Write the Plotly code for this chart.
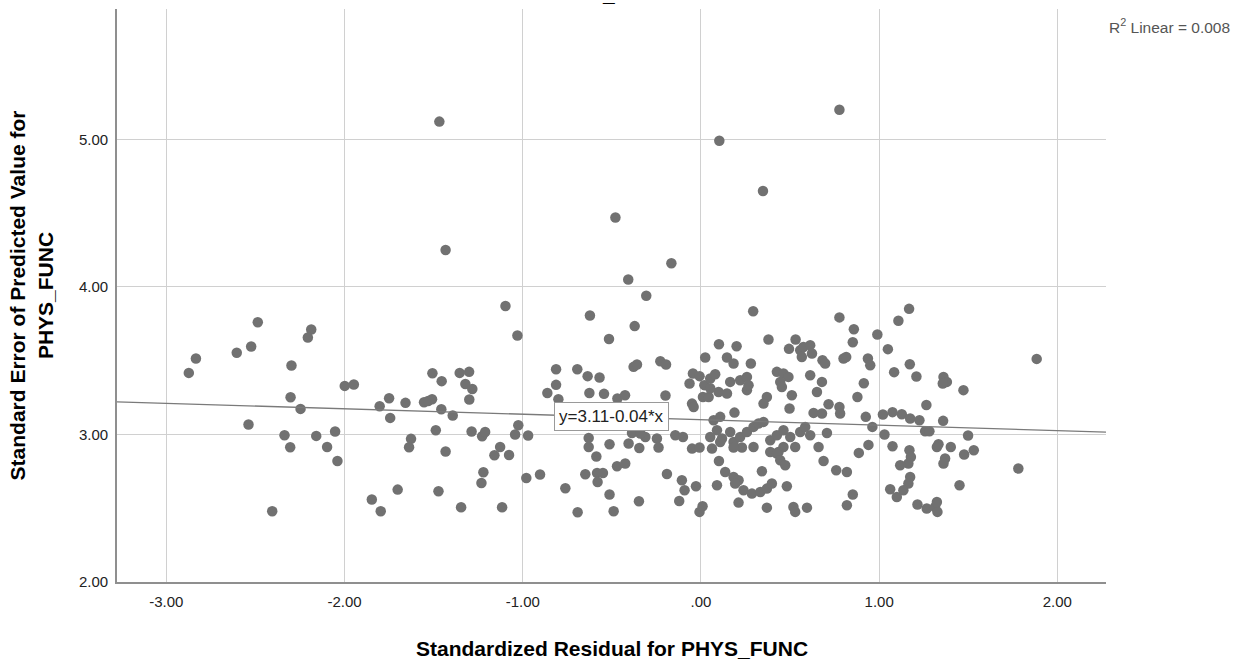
import plotly.graph_objects as go

# Standardized residual (x) and standard error of predicted value (y)
RESID = [
    -1.468, 0.103, 0.777, 0.348, -0.480, -1.433, -0.408, -0.166, -0.307, -1.097, -1.030,
    -2.487, -2.834, -2.874, -2.605, -2.524, -2.187, -2.206, -2.298, -2.303, -2.247,
    -2.539, -2.406, -2.337, -2.305, -2.159, -2.098, -2.053, -2.040, -1.999, -1.948,
    -1.803, -1.750, -1.744, -1.658, -1.847, -1.797, -1.702, -1.627, -1.638, -1.554,
    -1.531, -1.509, -1.507, -1.455, -1.457, -1.393, -1.488, -1.433, -1.473, -1.346,
    -1.354, -1.301, -1.322, -1.283, -1.300, -1.287, -1.228, -1.211, -1.221, -1.232,
    -1.116, -1.159, -1.127, -1.077, -1.043, -1.025,
    -0.623, -0.372, -0.516, 0.293, 0.777, -0.813, -0.694, -0.636, -0.569, -0.813,
    -0.862, -0.800, -0.626, -0.544, -0.378, -0.359, -0.228, -0.196, -0.469, -0.426, -0.199,
    -0.970, -0.980, -0.903, -0.761, -0.692, -0.630, -0.630, -0.587, -0.513, -0.406,
    -0.346, -0.387, -0.312, -0.247, -0.238, -0.340, -0.649, -0.583, -0.550, -0.580,
    -0.471, -0.425, -0.513, -0.490, -0.348, -0.191, -0.107, -0.092, -0.122, -0.028,
    -0.008, 0.009, -0.144, -0.101, -0.050, -0.008,
    -0.064, -0.045, -0.050, -0.041, -0.008, 0.019, 0.052, 0.080, 0.011, 0.043,
    0.024, 0.101, 0.146, 0.183, 0.200, 0.280, 0.099, 0.146, 0.164, 0.220,
    0.258, 0.258, 0.267, 0.188, 0.379, 0.494, 0.531, 0.557, 0.575, 0.613,
    0.566, 0.623, 0.682, 0.800, 0.426, 0.463, 0.491, 0.510, 0.445, 0.454,
    0.370, 0.351, 0.613, 0.679, 0.651, 0.632, 0.679, 0.716, 0.777, 0.497, 0.052,
    0.071, 0.108, 0.090, 0.052, 0.118, 0.164, 0.183, 0.220, 0.258, 0.295,
    0.323, 0.351, 0.389, 0.426, 0.463, 0.501, 0.557, 0.585, 0.613, 0.660,
    0.707, 0.463, 0.529, 0.389, 0.435, 0.295, 0.230, 0.183, 0.062, 0.108,
    0.101, 0.136, 0.183, 0.211, 0.090, 0.342, 0.426, 0.445, 0.473, 0.239,
    0.286, 0.333, 0.370, 0.398, 0.192, 0.211, 0.370, 0.482, 0.519, 0.529,
    0.595, 0.688, 0.759, 0.819, 0.819, 0.781,
    1.168, 1.108, 0.858, 0.852, 0.990, 1.049, 0.697, 0.815, 0.937, 0.950,
    1.172, 1.084, 1.209, 1.361, 1.380, 1.357, 1.473, 1.884, 0.914, 0.878,
    0.925, 1.021, 1.075, 1.127, 1.174, 1.226, 1.265, 1.359, 0.962, 1.030,
    1.258, 1.282, 1.499, 0.940, 0.886, 1.075, 1.170, 1.178, 1.164, 1.118,
    1.333, 1.324, 1.402, 1.531, 1.477, 1.370, 1.361, 1.174, 1.164, 1.136,
    1.099, 1.062, 0.852, 1.451, 1.781, 1.215, 1.267, 1.314, 1.327, 1.324,
]
SE_PRED = [
    5.12, 4.99, 5.20, 4.65, 4.47, 4.25, 4.05, 4.16, 3.94, 3.87, 3.67,
    3.760, 3.515, 3.417, 3.553, 3.596, 3.711, 3.657, 3.467, 3.252, 3.173,
    3.067, 2.479, 2.995, 2.913, 2.990, 2.915, 3.020, 2.820, 3.329, 3.338,
    3.191, 3.245, 3.112, 3.214, 2.559, 2.479, 2.626, 2.970, 2.913, 3.218,
    3.227, 3.239, 3.415, 3.361, 3.171, 3.128, 3.028, 2.884, 2.615, 2.506,
    3.417, 3.424, 3.342, 3.308, 3.237, 3.020, 2.988, 3.017, 2.744, 2.671,
    2.506, 2.859, 2.915, 2.861, 2.999, 3.062,
    3.806, 3.734, 3.647, 3.835, 3.793, 3.442, 3.442, 3.395, 3.386, 3.336,
    3.281, 3.239, 3.281, 3.275, 3.458, 3.474, 3.496, 3.474, 3.243, 3.266, 3.264,
    2.993, 2.705, 2.728, 2.635, 2.473, 2.976, 2.915, 2.850, 2.934, 2.938,
    2.908, 3.010, 2.983, 2.972, 2.911, 3.006, 2.730, 2.739, 2.739, 2.678,
    2.784, 2.803, 2.593, 2.479, 2.547, 2.732, 2.689, 2.622, 2.549, 2.649,
    2.475, 2.513, 2.995, 2.983, 2.904, 2.911,
    3.345, 3.413, 3.209, 3.186, 3.395, 3.334, 3.379, 3.408, 3.254, 3.254,
    3.521, 3.611, 3.521, 3.481, 3.598, 3.481, 3.288, 3.277, 3.356, 3.367,
    3.390, 3.300, 3.334, 3.148, 3.643, 3.580, 3.643, 3.571, 3.593, 3.605,
    3.525, 3.548, 3.503, 3.515, 3.424, 3.413, 3.390, 3.266, 3.356, 3.322,
    3.254, 3.209, 3.401, 3.356, 3.288, 3.146, 3.142, 3.205, 3.186, 3.176, 3.313,
    3.096, 3.119, 3.028, 2.983, 2.972, 3.017, 2.949, 2.983, 3.017, 3.051,
    3.074, 3.085, 2.961, 2.995, 3.028, 2.983, 3.017, 3.051, 2.995, 2.915,
    3.010, 2.915, 2.915, 2.881, 2.881, 2.915, 2.911, 2.911, 2.904, 2.949,
    2.820, 2.746, 2.712, 2.689, 2.656, 2.751, 2.870, 2.825, 2.791, 2.622,
    2.599, 2.610, 2.633, 2.667, 2.667, 2.538, 2.504, 2.649, 2.508, 2.475,
    2.504, 2.820, 2.757, 2.746, 2.520, 3.142,
    3.851, 3.770, 3.713, 3.625, 3.677, 3.578, 3.481, 3.525, 3.515, 3.469,
    3.476, 3.422, 3.393, 3.390, 3.356, 3.345, 3.300, 3.512, 3.347, 3.254,
    3.119, 3.135, 3.151, 3.137, 3.108, 3.096, 3.200, 3.092, 3.051, 2.999,
    3.022, 3.022, 2.993, 2.929, 2.875, 2.920, 2.893, 2.847, 2.803, 2.791,
    2.934, 2.915, 2.915, 2.893, 2.864, 2.837, 2.803, 2.712, 2.667, 2.622,
    2.576, 2.628, 2.593, 2.656, 2.769, 2.525, 2.498, 2.508, 2.475, 2.542,
]

X_TICKS = [-3, -2, -1, 0, 1, 2]
X_TICK_TEXT = ["-3.00", "-2.00", "-1.00", ".00", "1.00", "2.00"]
Y_TICKS = [2, 3, 4, 5]
Y_TICK_TEXT = ["2.00", "3.00", "4.00", "5.00"]
X_RANGE = [-3.277, 2.273]
Y_RANGE = [2.0, 5.883]

FIT_INTERCEPT = 3.10
FIT_SLOPE = -0.037
FIT_LABEL = "y=3.11-0.04*x"
FIT_LABEL_X = -0.50
R2_LABEL = "R<sup>2</sup> Linear = 0.008"

X_TITLE = "Standardized Residual for PHYS_FUNC"
Y_TITLE = "Standard Error of Predicted Value for<br>PHYS_FUNC"

FONT = "Liberation Sans, Arial, sans-serif"
DOT = "#717171"
GRID = "#d0d0d0"
AXIS = "#8f8f8f"

fig = go.Figure()
fig.add_trace(go.Scatter(
    x=RESID, y=SE_PRED, mode="markers",
    marker=dict(size=10.5, color=DOT, line=dict(width=0)),
    hoverinfo="x+y", showlegend=False,
))
fit_y = [FIT_INTERCEPT + FIT_SLOPE * v for v in X_RANGE]
fig.add_trace(go.Scatter(
    x=X_RANGE, y=fit_y, mode="lines",
    line=dict(color="#7a7a7a", width=1.3), hoverinfo="skip", showlegend=False,
))

fig.add_annotation(
    x=FIT_LABEL_X, y=FIT_INTERCEPT + FIT_SLOPE * FIT_LABEL_X, xref="x", yref="y",
    text=FIT_LABEL, showarrow=False, bgcolor="white", bordercolor="#9a9a9a",
    borderwidth=1, borderpad=4, font=dict(family=FONT, size=17, color="#222"),
)
fig.add_annotation(
    x=1.001, y=0.970, xref="paper", yref="paper", xanchor="left", yanchor="middle",
    text=R2_LABEL, showarrow=False, font=dict(family=FONT, size=15.5, color="#555"),
)
fig.add_annotation(
    x=0.4965, y=1.004, xref="paper", yref="paper", xanchor="center", yanchor="bottom",
    text="_", showarrow=False, font=dict(family=FONT, size=21, color="#000", weight="bold"),
)
# x-axis title placed as an annotation so the plot area keeps its size
fig.add_annotation(
    x=0.5, y=-0.1152, xref="paper", yref="paper", xanchor="center", yanchor="middle",
    text=X_TITLE, showarrow=False,
    font=dict(family=FONT, size=21, color="#000", weight="bold"),
)

fig.update_layout(
    width=1251, height=661,
    margin=dict(l=117, r=145, t=9, b=79),
    paper_bgcolor="white", plot_bgcolor="white",
    font=dict(family=FONT),
    xaxis=dict(
        range=X_RANGE, tickvals=X_TICKS, ticktext=X_TICK_TEXT,
        showgrid=True, gridcolor=GRID, gridwidth=1.3, zeroline=False,
        showline=True, linecolor=AXIS, linewidth=1.6, ticks="",
        ticklabelstandoff=5, tickfont=dict(family=FONT, size=15, color="#222"),
        automargin=False,
    ),
    yaxis=dict(
        range=Y_RANGE, tickvals=Y_TICKS, ticktext=Y_TICK_TEXT,
        showgrid=True, gridcolor=GRID, gridwidth=1.3, zeroline=False,
        showline=True, linecolor=AXIS, linewidth=1.6, ticks="",
        ticklabelstandoff=4, tickfont=dict(family=FONT, size=15, color="#222"),
        title=dict(text=Y_TITLE, standoff=20,
                   font=dict(family=FONT, size=21, color="#000", weight="bold")),
    ),
)

fig.write_html("out.html")
